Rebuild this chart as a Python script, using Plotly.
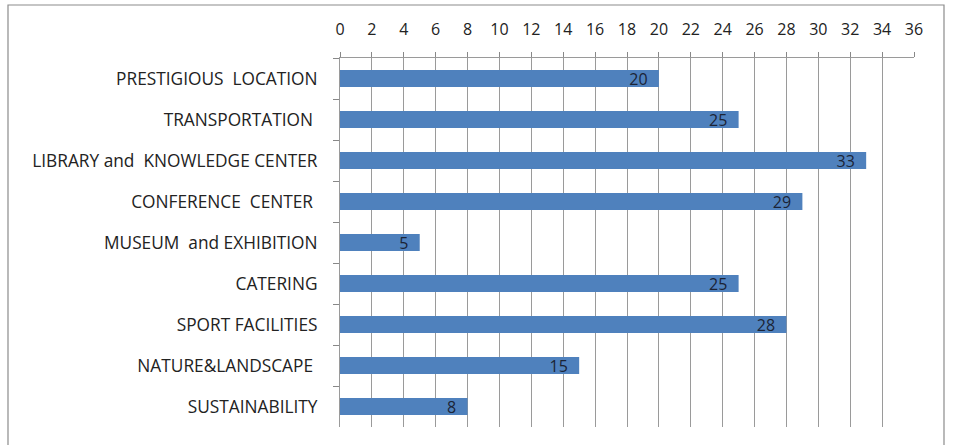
import plotly.graph_objects as go

categories = ["PRESTIGIOUS  LOCATION", "TRANSPORTATION ", "LIBRARY and  KNOWLEDGE CENTER",
              "CONFERENCE  CENTER ", "MUSEUM  and EXHIBITION", "CATERING",
              "SPORT FACILITIES", "NATURE&LANDSCAPE ", "SUSTAINABILITY"]
values = [20, 25, 33, 29, 5, 25, 28, 15, 8]
x_ticks = list(range(0, 37, 2))

W, H = 955, 445
L, R, T, B = 340, 41, 58, 18
pw, ph = W - L - R, H - T - B

FONT = "Open Sans, Lato, sans-serif"

fig = go.Figure(go.Bar(
    y=categories, x=values, orientation="h",
    marker=dict(color="#4F81BD", line=dict(width=0)),
    text=[f"{v}\u00a0\u00a0" for v in values], textposition="inside", insidetextanchor="end",
    textangle=0, constraintext="none",
    textfont=dict(family=FONT, size=16, color="#1b2436"),
    width=0.41,
))

fig.update_layout(
    width=W, height=H, margin=dict(l=L, r=R, t=T, b=B, autoexpand=False),
    paper_bgcolor="white", plot_bgcolor="white", showlegend=False,
    font=dict(family=FONT, size=16, color="#222222"),
    uniformtext=dict(mode=False),
    xaxis=dict(side="top", range=[0, 36], tickvals=x_ticks, ticks="outside", ticklen=5,
               tickcolor="#888888", showgrid=True, gridcolor="#9a9a9a", gridwidth=1,
               showline=True, linecolor="#9a9a9a", linewidth=1, zeroline=False,
               automargin=False, tickfont=dict(size=16, color="#222222"),
               ticklabelstandoff=11),
    yaxis=dict(autorange="reversed", ticks="outside", tickson="boundaries", ticklen=6,
               tickcolor="#888888", showline=True, linecolor="#9a9a9a", linewidth=1,
               showgrid=False, automargin=False, tickfont=dict(size=17.3, color="#222222"),
               ticklabelstandoff=18),
    shapes=[dict(type="rect", xref="paper", yref="paper",
                 x0=(8 - L) / pw, x1=(944 - L) / pw,
                 y0=(H - B - 452) / ph, y1=(H - B - 5) / ph,
                 line=dict(color="#8c8c8c", width=1.2), fillcolor="rgba(0,0,0,0)", layer="below")],
)

fig.write_html("out.html", config={"displayModeBar": False},
               post_script="document.body.style.margin='0px';")
